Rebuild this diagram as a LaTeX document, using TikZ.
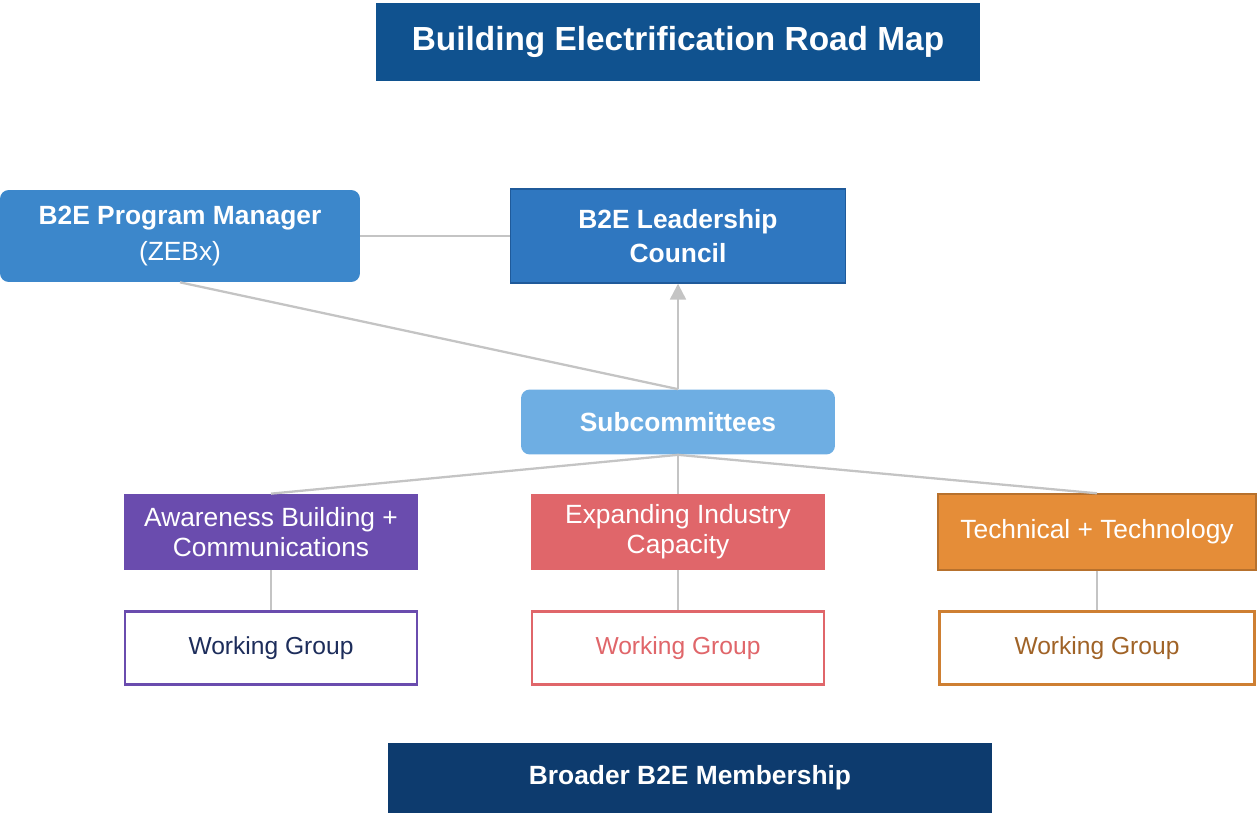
\documentclass[tikz,border=0pt]{standalone}
\usepackage{fontspec}
\setmainfont{Liberation Sans}
\usetikzlibrary{arrows.meta}

\definecolor{titleblue}{HTML}{10528F}
\definecolor{pmblue}{HTML}{3C87CB}
\definecolor{leadblue}{HTML}{2F77C0}
\definecolor{leadedge}{HTML}{1F5A9A}
\definecolor{subblue}{HTML}{6EAEE3}
\definecolor{awpurple}{HTML}{6A4CAE}
\definecolor{exred}{HTML}{E0666A}
\definecolor{tcorange}{HTML}{E58D38}
\definecolor{navy}{HTML}{0D3B6E}
\definecolor{linegray}{HTML}{C4C4C4}

\begin{document}
\begin{tikzpicture}[x=0.02cm, y=-0.02cm,
    box/.style={rectangle, inner sep=0pt, align=center, text=white, font=\fontsize{15}{17}\selectfont},
    boldbox/.style={box, font=\fontsize{15}{19}\selectfont\bfseries},
    wg/.style={rectangle, inner sep=0pt, fill=white, line width=1.5pt, minimum width=5.84cm, minimum height=1.46cm, font=\fontsize{14}{16}\selectfont},
    link/.style={draw=linegray, line width=1.3pt}]
        \useasboundingbox (0, 0) rectangle (1258, 817);

        \node[boldbox, fill=titleblue, minimum width=12.08cm, minimum height=1.56cm, font=\fontsize{19}{22}\selectfont\bfseries] (title) at (678, 42) {Building Electrification Road Map};

        \node[boldbox, fill=pmblue, rounded corners=5pt, minimum width=7.2cm, minimum height=1.84cm, font=\fontsize{15}{21}\selectfont\bfseries] (pm) at (180, 236) {B2E Program Manager\\{\mdseries (ZEBx)}};
        \node[boldbox, fill=leadblue, draw=leadedge, line width=0.8pt, minimum width=6.7cm, minimum height=1.88cm] (lead) at (678, 236) {B2E Leadership\\Council};

        \node[boldbox, fill=subblue, rounded corners=5pt, minimum width=6.28cm, minimum height=1.3cm] (sub) at (678, 422) {Subcommittees};

        \node[box, fill=awpurple, minimum width=5.88cm, minimum height=1.52cm] (aw) at (271, 532) {Awareness Building +\\Communications};
        \node[box, fill=exred, minimum width=5.9cm, minimum height=1.52cm] (ex) at (678, 532) {Expanding Industry\\Capacity};
        \node[box, fill=tcorange, draw=tcorange!80!black, line width=0.8pt, minimum width=6.36cm, minimum height=1.52cm] (tc) at (1097, 532) {Technical + Technology};

        \node[wg, draw=awpurple, text=navy!70!awpurple!70!black] (aw-wg) at (271, 648) {Working Group};
        \node[wg, draw=exred, text=exred] (ex-wg) at (678, 648) {Working Group};
        \node[wg, draw=tcorange!90!black, text=tcorange!70!black, minimum width=6.3cm] (tc-wg) at (1097, 648) {Working Group};

        \node[boldbox, fill=navy, minimum width=12.08cm, minimum height=1.4cm] (member) at (690, 778) {Broader B2E Membership};


        \draw[link] (pm) -- (lead);
        \draw[link] (pm.south) -- (sub.north);
        \draw[link, -{Triangle[length=9pt, width=9pt]}] (sub) -- (lead);

        \draw[link] (sub.south) -- (aw.north);
        \draw[link] (sub.south) -- (ex.north);
        \draw[link] (sub.south) -- (tc.north);

        \draw[link] (aw) -- (aw-wg);
        \draw[link] (ex) -- (ex-wg);
        \draw[link] (tc) -- (tc-wg);
    \end{tikzpicture}
\end{document}
